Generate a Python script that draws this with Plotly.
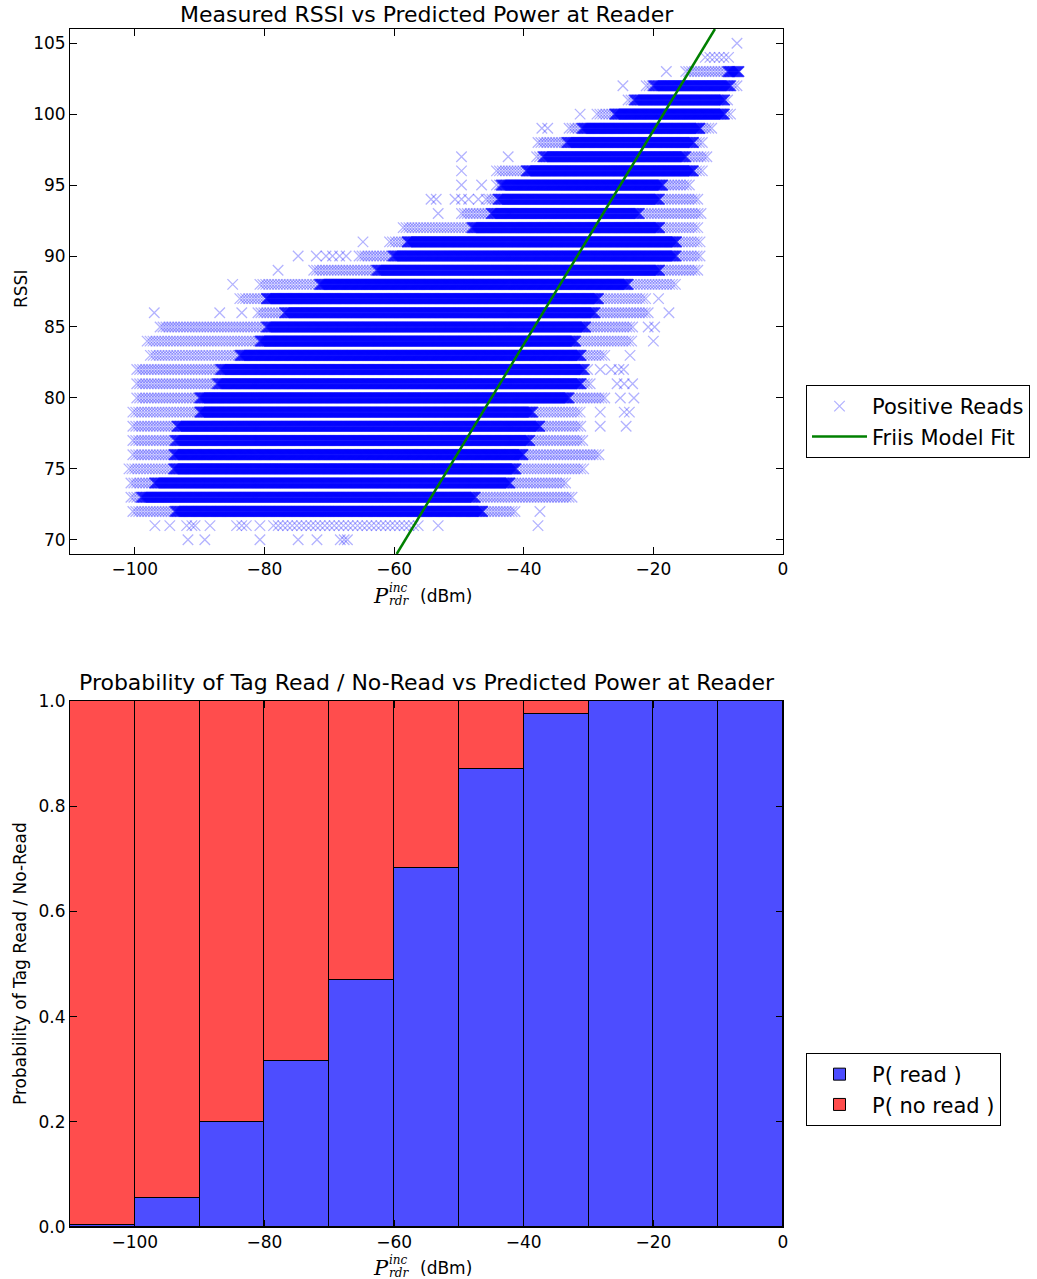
import numpy as np
import plotly.graph_objects as go

# ---------------- data ----------------
W, H = 1037, 1279

# RSSI rows of the measured scatter and the observed extent of each row (dBm)
rssi_levels = list(range(70, 106))
nan = float("nan")
fringe_lo = [nan, -78.6, -100.3, -100.6, -100.6, -100.9, -100.3, -100.3, -100.3, -100.3,
             -99.7, -99.7, -99.7, -97.6, -98.1, -96.1, -81.0, -83.8, -80.7, -72.4,
             -65.4, -60.7, -58.6, -49.6, -45.8, -44.2, -44.2, -38.0, -37.8, -33.0,
             -28.7, -23.9, -21.1, -15.0, -12.0, nan]
dense_lo = [nan, nan, -93.8, -99.0, -97.0, -94.0, -94.0, -93.8, -93.5, -90.0,
            -90.0, -87.3, -86.8, -83.8, -80.7, -79.7, -76.9, -79.7, -71.5, -62.7,
            -60.2, -58.0, -48.0, -45.0, -44.0, -43.5, -39.6, -37.0, -33.4, -31.0,
            -26.0, -23.0, -20.0, -8.5, nan, nan]
dense_hi = [nan, nan, -46.3, -47.4, -42.1, -41.1, -40.1, -39.0, -37.5, -38.5,
            -32.9, -31.1, -30.6, -31.1, -31.9, -30.4, -28.9, -28.4, -23.8, -19.0,
            -16.4, -16.4, -19.0, -22.1, -19.0, -18.5, -13.8, -14.9, -13.8, -12.8,
            -9.0, -9.0, -8.0, -6.8, nan, nan]
fringe_hi = [nan, -56.1, -41.1, -32.4, -33.2, -30.6, -28.2, -30.8, -30.8, -31.3,
             -27.2, -29.5, -30.0, -27.2, -23.1, -23.1, -20.5, -21.0, -16.5, -12.8,
             -12.5, -12.5, -12.8, -12.5, -12.8, -14.4, -12.3, -11.7, -12.3, -11.0,
             -7.7, -8.4, -6.8, -6.8, -8.4, nan]

# isolated reads
outlier_p = [-91.8, -89.2, -80.7, -74.8, -71.9, -68.3, -67.7, -67.2,
             -96.9, -94.6, -92.0, -91.2, -90.7, -88.4, -84.3, -83.5, -82.8, -80.7, -53.2, -37.8,
             -37.5, -28.2, -24.2, -28.2, -24.5, -23.7, -25.1, -23.0, -25.6, -24.5, -23.2,
             -28.2, -26.5, -25.3, -24.6, -23.6, -20.0, -20.8, -19.8,
             -97.0, -86.9, -83.5, -17.6, -19.2, -84.9, -77.9,
             -74.8, -72.0, -70.5, -69.5, -68.4, -67.4, -64.8, -53.2,
             -54.3, -53.5, -50.6, -49.6, -48.5, -47.0, -49.6, -46.5, -49.6, -49.6, -42.4,
             -37.2, -36.3, -31.3, -24.7, -18.0, -7.1]
outlier_rssi = [70, 70, 70, 70, 70, 70, 70, 70,
                71, 71, 71, 71, 71, 71, 71, 71, 71, 71, 71, 71,
                72, 78, 78, 79, 79, 79, 80, 80, 81, 81, 81,
                82, 82, 82, 82, 83, 84, 85, 85,
                86, 86, 86, 86, 87, 88, 89,
                90, 90, 90, 90, 90, 90, 91, 93,
                94, 94, 94, 94, 94, 94, 95, 95, 96, 97, 97,
                99, 99, 100, 102, 103, 105]

# Friis model fit line (two points read at the axes edges)
friis_p = [-59.6, -10.5]
friis_rssi = [69.0, 106.0]

# probability histogram
bin_centers = [-105, -95, -85, -75, -65, -55, -45, -35, -25, -15, -5]
p_read = [0.003, 0.055, 0.200, 0.315, 0.470, 0.683, 0.870, 0.975, 1.0, 1.0, 1.0]
p_noread = [1 - v for v in p_read]

# ---------------- expand rows into marks ----------------
dense_x, dense_y, fr_x, fr_y = [], [], [], []
D_STEP, F_STEP = 0.14, 0.45
for r, fl, dl, dh, fh in zip(rssi_levels, fringe_lo, dense_lo, dense_hi, fringe_hi):
    if np.isnan(fl):
        continue
    if np.isnan(dl):
        xs = np.arange(fl, fh + 1e-6, F_STEP * 1.6)
        fr_x += list(xs); fr_y += [r] * len(xs)
        continue
    a = np.arange(fl, dl, F_STEP)
    b = np.arange(dl, dh + 1e-6, D_STEP)
    c = np.arange(dh, fh + 1e-6, F_STEP)
    fr_x += list(a) + list(c); fr_y += [r] * (len(a) + len(c))
    dense_x += list(b); dense_y += [r] * len(b)

fr_x += outlier_p
fr_y += outlier_rssi

BLUE_X = "rgba(0,0,255,0.3)"
fig = go.Figure()

fig.add_trace(go.Scatter(
    x=fr_x, y=fr_y, mode="markers", name="Positive Reads",
    marker=dict(symbol="x-thin-open", size=10.5, color=BLUE_X,
                line=dict(color=BLUE_X, width=1.3)),
    xaxis="x", yaxis="y", legend="legend"))
fig.add_trace(go.Scatter(
    x=dense_x, y=dense_y, mode="markers", name="Positive Reads", showlegend=False,
    marker=dict(symbol="x-thin-open", size=10.5, color="rgba(0,0,255,0.6)",
                line=dict(color="rgba(0,0,255,0.6)", width=1.6)),
    xaxis="x", yaxis="y"))
fig.add_trace(go.Scatter(
    x=friis_p, y=friis_rssi, mode="lines", name="Friis Model Fit",
    line=dict(color="#008000", width=2.5),
    xaxis="x", yaxis="y", legend="legend"))

fig.add_trace(go.Bar(
    x=bin_centers, y=p_read, width=10, name="P( read )",
    marker=dict(color="rgb(77,77,255)", line=dict(color="black", width=1)),
    xaxis="x2", yaxis="y2", legend="legend2"))
fig.add_trace(go.Bar(
    x=bin_centers, y=p_noread, width=10, name="P( no read )",
    marker=dict(color="rgb(255,77,77)", line=dict(color="black", width=1)),
    xaxis="x2", yaxis="y2", legend="legend2"))


def px(x):
    return x / W


def py(y):
    return 1 - y / H


FONT = "DejaVu Sans"
axis_common = dict(showline=True, linecolor="black", linewidth=1, mirror="ticks",
                   ticks="inside", ticklen=7, tickcolor="black", tickwidth=1,
                   showgrid=False, zeroline=False,
                   tickfont=dict(family=FONT, size=17, color="black"))

legend_common = dict(xanchor="left", yanchor="top", bordercolor="black", borderwidth=1,
                     bgcolor="white", itemwidth=55,
                     font=dict(family=FONT, size=21, color="black"))

fig.update_layout(
    width=W, height=H,
    margin=dict(l=0, r=0, t=0, b=0, autoexpand=False),
    paper_bgcolor="white", plot_bgcolor="white",
    barmode="stack", bargap=0,
    font=dict(family=FONT, color="black"),
    xaxis=dict(domain=[px(70), px(783)], anchor="y", range=[-110, 0],
               tickvals=[-100, -80, -60, -40, -20, 0], **axis_common),
    yaxis=dict(domain=[py(554), py(29)], anchor="x", range=[69, 106],
               tickvals=list(range(70, 106, 5)), **axis_common),
    xaxis2=dict(domain=[px(70), px(783)], anchor="y2", range=[-110, 0],
                tickvals=[-100, -80, -60, -40, -20, 0], **axis_common),
    yaxis2=dict(domain=[py(1227), py(701)], anchor="x2", range=[0, 1],
                tickvals=[0, 0.2, 0.4, 0.6, 0.8, 1.0], tickformat=".1f", **axis_common),
    legend=dict(x=px(806), y=py(385), **legend_common),
    legend2=dict(x=px(806), y=py(1053), traceorder="normal", **legend_common),
)

ann = []
# titles
ann.append(dict(text="Measured RSSI vs Predicted Power at Reader", x=px(426.5), y=py(14),
                xanchor="center", yanchor="middle", font=dict(size=22)))
ann.append(dict(text="Probability of Tag Read / No-Read vs Predicted Power at Reader",
                x=px(426.5), y=py(682), xanchor="center", yanchor="middle", font=dict(size=22)))
# y titles
ann.append(dict(text="RSSI", x=px(21), y=py(289), textangle=-90,
                xanchor="center", yanchor="middle", font=dict(size=17)))
ann.append(dict(text="Probability of Tag Read / No-Read", x=px(20), y=py(964), textangle=-90,
                xanchor="center", yanchor="middle", font=dict(size=17)))
# x titles (P_rdr^inc (dBm))
for off in (0, 672):
    ann.append(dict(text="<i>P</i>", x=px(371), y=py(596 + off), xanchor="left", yanchor="middle",
                    font=dict(family="DejaVu Serif", size=21)))
    ann.append(dict(text="<i>inc</i>", x=px(387), y=py(588 + off), xanchor="left", yanchor="middle",
                    font=dict(family="DejaVu Serif", size=12)))
    ann.append(dict(text="<i>rdr</i>", x=px(387), y=py(601 + off), xanchor="left", yanchor="middle",
                    font=dict(family="DejaVu Serif", size=12)))
    ann.append(dict(text="(dBm)", x=px(418), y=py(596 + off), xanchor="left", yanchor="middle",
                    font=dict(size=17)))
for a in ann:
    a.update(xref="paper", yref="paper", showarrow=False)
    a.setdefault("font", {})
    a["font"].setdefault("family", FONT)
    a["font"]["color"] = "black"
fig.update_layout(annotations=ann)

fig.write_html("out.html")
